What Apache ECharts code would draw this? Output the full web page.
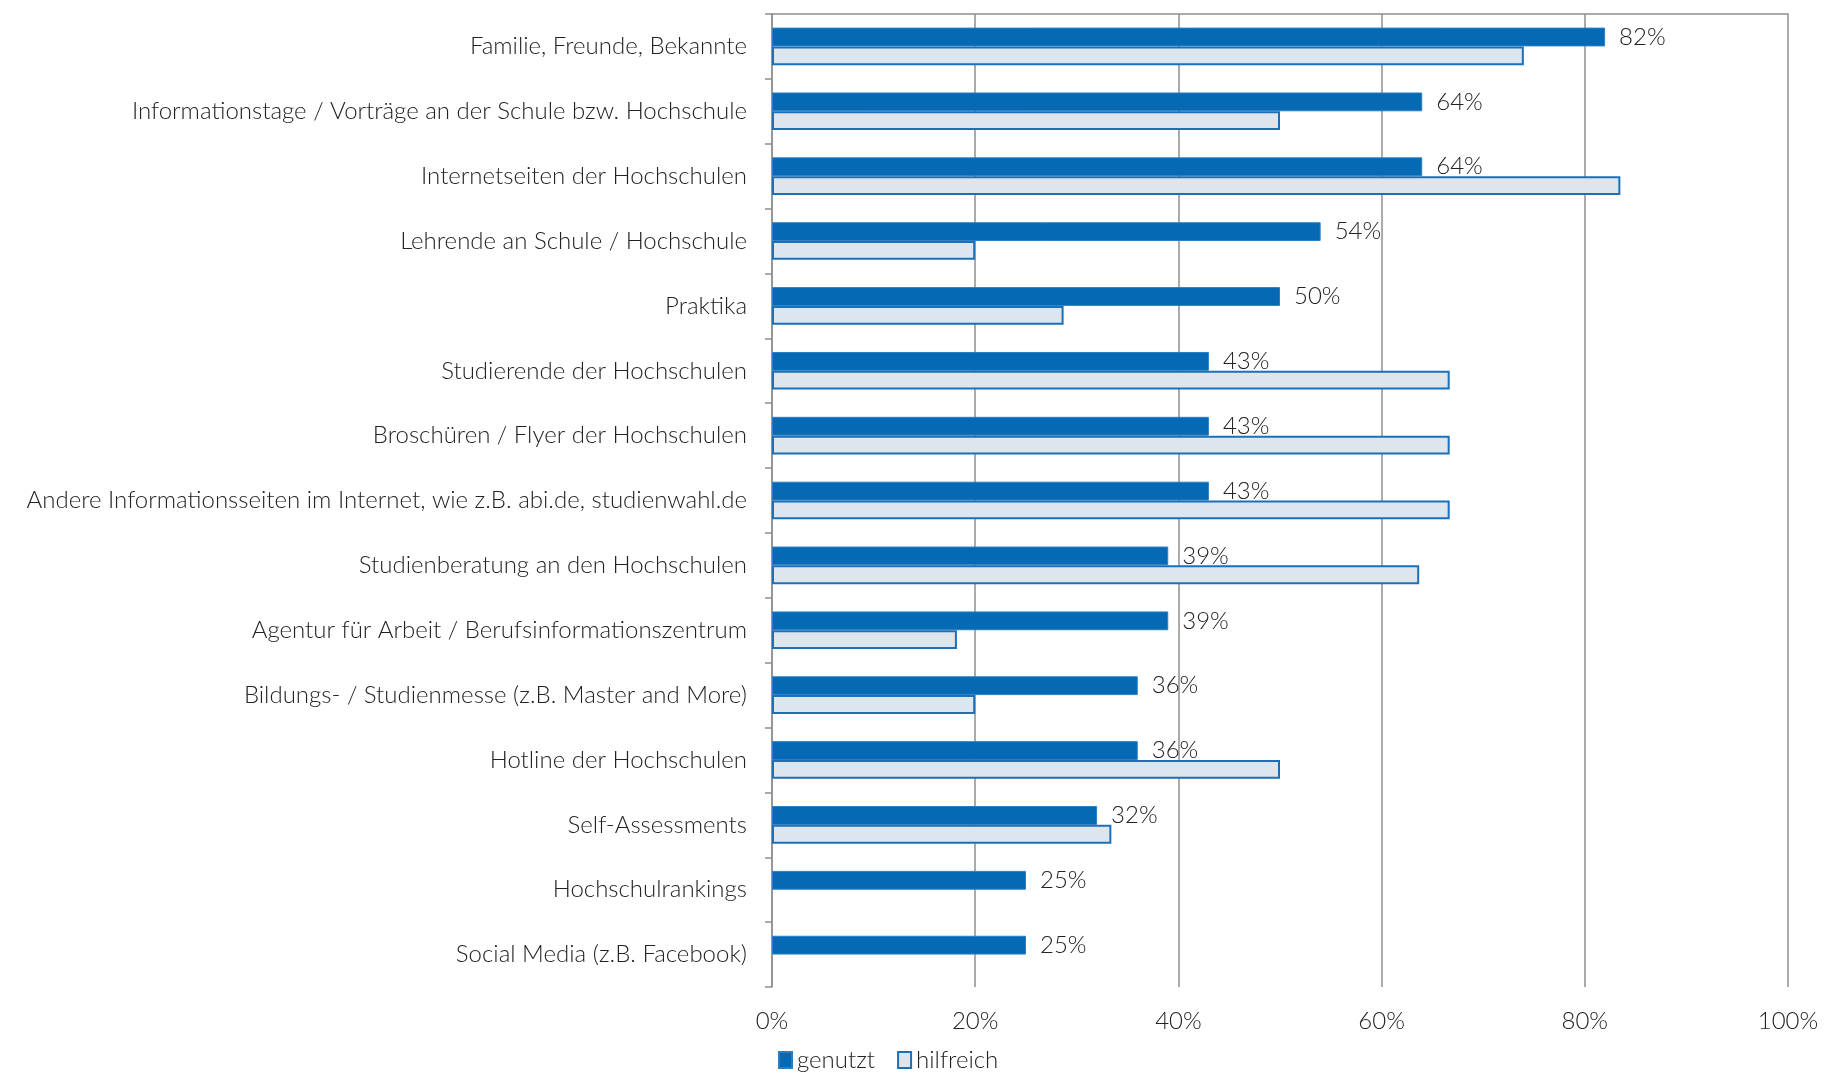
<!DOCTYPE html>
<html><head><meta charset="utf-8">
<script src="https://cdn.jsdelivr.net/npm/echarts@6/dist/echarts.min.js"></script>
<style>html,body{margin:0;padding:0;background:#fff}#c{width:1842px;height:1073px}</style>
</head><body><div id="c"></div>
<script>
const categories = [
  "Familie, Freunde, Bekannte",
  "Informationstage / Vorträge an der Schule bzw. Hochschule",
  "Internetseiten der Hochschulen",
  "Lehrende an Schule / Hochschule",
  "Praktika",
  "Studierende der Hochschulen",
  "Broschüren / Flyer der Hochschulen",
  "Andere Informationsseiten im Internet, wie z.B. abi.de, studienwahl.de",
  "Studienberatung an den Hochschulen",
  "Agentur für Arbeit / Berufsinformationszentrum",
  "Bildungs- / Studienmesse (z.B. Master and More)",
  "Hotline der Hochschulen",
  "Self-Assessments",
  "Hochschulrankings",
  "Social Media (z.B. Facebook)"
];
const genutzt = [82, 64, 64, 54, 50, 43, 43, 43, 39, 39, 36, 36, 32, 25, 25];
const hilfreich = [74, 50, 83.5, 20, 28.7, 66.7, 66.7, 66.7, 63.7, 18.2, 20, 50, 33.4, null, null];
const xTicks = [0, 20, 40, 60, 80, 100];

const FONT = 'Lato';
const TXT = '#222222';
const FS = 24;
const chart = echarts.init(document.getElementById('c'));
chart.setOption({
  animation: false,
  textStyle: { fontFamily: FONT },
  grid: { left: 772, right: 54, top: 14, bottom: 86 },
  legend: {
    left: 773, top: 1043,
    itemWidth: 13, itemHeight: 16, itemGap: 22,
    textStyle: { fontFamily: FONT, fontSize: FS, color: TXT, fontWeight: 300 },
    data: [
      { name: 'genutzt', icon: 'rect' },
      { name: 'hilfreich', icon: 'rect' }
    ]
  },
  xAxis: [{
    type: 'value', min: xTicks[0], max: xTicks[xTicks.length - 1], interval: 20,
    axisLine: { show: false }, axisTick: { show: false },
    splitLine: { show: true, lineStyle: { color: '#8f8f8f', width: 1.5 } },
    axisLabel: { formatter: '{value}%', margin: 22, fontSize: FS, color: TXT, fontFamily: FONT, fontWeight: 300 }
  }, {
    type: 'value', position: 'top', min: 0, max: 100,
    axisLine: { show: true, lineStyle: { color: '#8f8f8f', width: 1.5 } },
    axisTick: { show: false }, axisLabel: { show: false }, splitLine: { show: false }
  }],
  yAxis: {
    type: 'category', data: categories, inverse: true,
    axisLine: { show: true, lineStyle: { color: '#8f8f8f', width: 1.5 } },
    axisTick: { show: true, length: 7, lineStyle: { color: '#8f8f8f', width: 1.5 } },
    axisLabel: { margin: 25, fontSize: FS, color: TXT, fontFamily: FONT, fontWeight: 300 }
  },
  series: [{
    name: 'genutzt', type: 'bar', data: genutzt,
    barGap: '0%', barCategoryGap: '42%',
    itemStyle: { color: '#0569B3', borderColor: '#2a7fc4', borderWidth: 1 },
    label: { show: true, position: 'right', distance: 14, formatter: '{c}%',
      fontSize: FS, color: TXT, fontFamily: FONT, fontWeight: 300 }
  }, {
    name: 'hilfreich', type: 'bar', data: hilfreich,
    itemStyle: { color: '#DDE5ED', borderColor: '#1C6FB9', borderWidth: 2 }
  }]
});
</script></body></html>
